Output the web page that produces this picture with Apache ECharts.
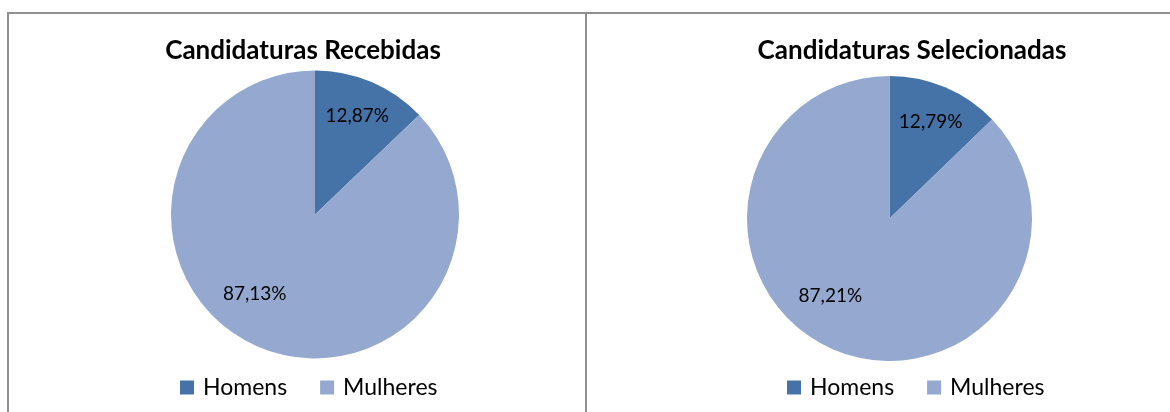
<!DOCTYPE html>
<html>
<head>
<meta charset="utf-8">
<script src="https://cdn.jsdelivr.net/npm/echarts@6/dist/echarts.min.js"></script>
<style>
html,body{margin:0;padding:0;background:#fff;}
#c{width:1170px;height:412px;}
</style>
</head>
<body>
<div id="c"></div>
<script>
var categories = ['Homens', 'Mulheres'];
var recebidas = [12.87, 87.13];
var selecionadas = [12.79, 87.21];
var titles = ['Candidaturas Recebidas', 'Candidaturas Selecionadas'];
var colors = ['#4572A7', '#95A9D0'];

function toData(vals) {
  return categories.map(function (n, i) { return { name: n, value: vals[i] }; });
}
function fmt(p) { return p.value.toFixed(2).replace('.', ',') + '%'; }

var FONT = 'Lato';
var labelLayoutFn = function (p) {
  if (p.dataIndex === 1) return { dx: -18, dy: -19 };
};

function pies(vals, center, r, rin) {
  return [
    {
      type: 'pie', center: center, radius: [0, r], startAngle: 90,
      data: toData(vals), label: { show: false }, labelLine: { show: false },
      emphasis: { disabled: true }, animation: false,
      itemStyle: { borderWidth: 0 }
    },
    {
      type: 'pie', center: center, radius: [rin, r], startAngle: 90, silent: true,
      data: toData(vals), animation: false,
      itemStyle: { color: 'rgba(0,0,0,0)', borderWidth: 0 },
      label: { show: true, position: 'inside', formatter: fmt, color: '#000', fontSize: 19, fontFamily: FONT },
      labelLine: { show: false },
      labelLayout: labelLayoutFn
    }
  ];
}

function legend(left) {
  return {
    data: categories, left: left, top: 376, orient: 'horizontal', icon: 'rect', padding: 0,
    itemWidth: 14, itemHeight: 14, itemGap: 33, selectedMode: false,
    textStyle: { fontSize: 23, fontFamily: FONT, color: '#000', padding: [0, 0, 0, 4] }
  };
}

var chart = echarts.init(document.getElementById('c'), null, { renderer: 'canvas' });
chart.setOption({
  color: colors,
  animation: false,
  title: [
    { text: titles[0], left: 298, top: 33, textAlign: 'center',
      textStyle: { fontSize: 26, fontWeight: 'bold', fontFamily: FONT, color: '#000' } },
    { text: titles[1], left: 907, top: 33, textAlign: 'center',
      textStyle: { fontSize: 26, fontWeight: 'bold', fontFamily: FONT, color: '#000' } }
  ],
  legend: [legend(180), legend(787)],
  series: pies(recebidas, [315, 214.5], 144, 65).concat(pies(selecionadas, [889.5, 218.5], 142.5, 62)),
  graphic: [
    { type: 'line', shape: { x1: 7, y1: 13, x2: 1170, y2: 13 }, style: { stroke: '#8f8f8f', lineWidth: 2 }, silent: true },
    { type: 'line', shape: { x1: 8, y1: 12, x2: 8, y2: 412 }, style: { stroke: '#8f8f8f', lineWidth: 2 }, silent: true },
    { type: 'line', shape: { x1: 586, y1: 12, x2: 586, y2: 412 }, style: { stroke: '#8f8f8f', lineWidth: 2 }, silent: true }
  ]
});
</script>
</body>
</html>
